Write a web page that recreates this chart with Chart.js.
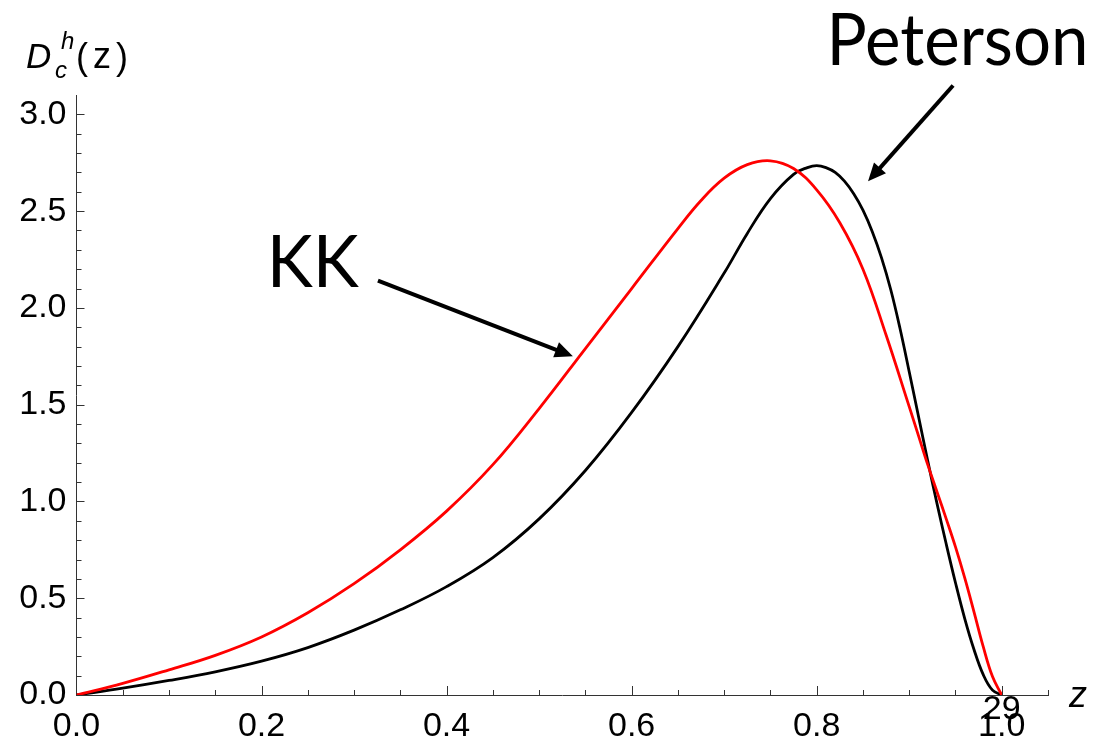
<!DOCTYPE html>
<html>
<head>
<meta charset="utf-8">
<title>D(z): KK vs Peterson</title>
<script src="https://cdn.jsdelivr.net/npm/chart.js@4.4.1/dist/chart.umd.min.js"></script>
<style>
  html, body { margin: 0; padding: 0; background: #fff; }
</style>
</head>
<body>
<canvas id="fragChart" width="1099" height="736"></canvas>
<script>
// KK fragmentation function
const kkZ = [0, 0.05, 0.1, 0.15, 0.2, 0.25, 0.3, 0.35, 0.4, 0.45, 0.5, 0.55, 0.6, 0.65, 0.675,
    0.7, 0.725, 0.75, 0.775, 0.8, 0.825, 0.85, 0.875, 0.9, 0.91, 0.92, 0.93, 0.94, 0.95,
    0.96, 0.97, 0.98, 0.99, 1.0];
const kkValues = [0, 0.06, 0.13, 0.205, 0.30, 0.425, 0.575, 0.75, 0.95, 1.19, 1.48, 1.79, 2.10, 2.41, 2.555,
    2.67, 2.74, 2.76, 2.72, 2.61, 2.44, 2.20, 1.86, 1.49, 1.34, 1.19, 1.05, 0.91, 0.765,
    0.605, 0.43, 0.25, 0.095, 0];

// Peterson fragmentation function
const petersonZ = [0, 0.05, 0.1, 0.15, 0.2, 0.25, 0.3, 0.35, 0.4, 0.45, 0.5, 0.55, 0.6, 0.65, 0.7,
    0.725, 0.75, 0.775, 0.79, 0.8, 0.81, 0.82, 0.83, 0.84, 0.85, 0.86, 0.87, 0.88, 0.89, 0.9,
    0.91, 0.92, 0.93, 0.94, 0.95, 0.96, 0.97, 0.98, 0.99, 1.0];
const petersonValues = [0, 0.035, 0.075, 0.12, 0.175, 0.245, 0.335, 0.44, 0.56, 0.71, 0.91, 1.16, 1.46, 1.80, 2.18,
    2.385, 2.565, 2.69, 2.725, 2.735, 2.725, 2.70, 2.655, 2.59, 2.505, 2.395, 2.26, 2.095, 1.895, 1.67,
    1.44, 1.21, 0.99, 0.78, 0.58, 0.395, 0.235, 0.105, 0.025, 0];

const xTickValues = [0, 0.2, 0.4, 0.6, 0.8, 1.0];
const yTickValues = [0, 0.5, 1.0, 1.5, 2.0, 2.5, 3.0];
const X_MAX = 1.05;
const Y_MAX = 3.1;

const LABEL_FONT = '"Liberation Sans", Arial, sans-serif';
const NOTE_FONT = 'Lato, "Open Sans", sans-serif';
const AXIS_COLOR = '#333';

function toPoints(zs, ys) {
    return zs.map((z, i) => ({ x: z, y: ys[i] }));
}

// captions with arrows, anchored in data coordinates
const notes = [
    { text: 'KK', at: [0.2055, 2.109], width: 92, from: [0.3258, 2.141], to: [0.5365, 1.750] },
    { text: 'Peterson', at: [0.8106, 3.257], width: 262, from: [0.9474, 3.149], to: [0.8555, 2.654] }
];

function drawArrow(ctx, x1, y1, x2, y2) {
    const ang = Math.atan2(y2 - y1, x2 - x1);
    const head = 18, half = 8;
    const c = Math.cos(ang), s = Math.sin(ang);
    ctx.beginPath();
    ctx.moveTo(x1, y1);
    ctx.lineTo(x2 - c * head * 0.8, y2 - s * head * 0.8);
    ctx.lineWidth = 4;
    ctx.strokeStyle = '#000';
    ctx.stroke();
    ctx.beginPath();
    ctx.moveTo(x2, y2);
    ctx.lineTo(x2 - c * head - s * half, y2 - s * head + c * half);
    ctx.lineTo(x2 - c * head + s * half, y2 - s * head - c * half);
    ctx.closePath();
    ctx.fillStyle = '#000';
    ctx.fill();
}

// inward tick marks, axis titles and the captions
const decorPlugin = {
    id: 'decor',
    afterDraw(chart) {
        const ctx = chart.ctx;
        const xs = chart.scales.x, ys = chart.scales.y;
        const area = chart.chartArea;
        ctx.save();

        ctx.strokeStyle = AXIS_COLOR;
        ctx.lineWidth = 1;
        ctx.beginPath();
        for (let i = 1; i <= 21; i++) {
            const px = Math.round(xs.getPixelForValue(i * 0.05)) + 0.5;
            const len = i % 4 === 0 ? 9 : 5;
            ctx.moveTo(px, area.bottom);
            ctx.lineTo(px, area.bottom - len);
        }
        for (let i = 1; i <= 30; i++) {
            const py = Math.round(ys.getPixelForValue(i * 0.1)) + 0.5;
            const len = i % 5 === 0 ? 8 : 5;
            ctx.moveTo(area.left, py);
            ctx.lineTo(area.left + len, py);
        }
        ctx.stroke();

        // y axis title D_c^h(z)
        ctx.fillStyle = '#000';
        ctx.textAlign = 'left';
        ctx.textBaseline = 'alphabetic';
        ctx.font = 'italic 35px ' + LABEL_FONT;
        ctx.fillText('D', 26, 68);
        ctx.font = 'italic 24px ' + LABEL_FONT;
        ctx.fillText('h', 61, 49);
        ctx.fillText('c', 55, 78);
        ctx.font = '36px ' + LABEL_FONT;
        ctx.fillText('(', 76, 69);
        ctx.fillText('z', 93, 68);
        ctx.fillText(')', 116, 69);

        // x axis title
        ctx.font = 'italic 36px ' + LABEL_FONT;
        ctx.fillText('z', 1069, 707);

        ctx.font = '34px ' + LABEL_FONT;
        ctx.textAlign = 'center';
        ctx.fillText('29', xs.getPixelForValue(1.0), 719);

        ctx.textAlign = 'left';
        ctx.font = '72px ' + NOTE_FONT;
        notes.forEach(n => {
            const px = xs.getPixelForValue(n.at[0]);
            const py = ys.getPixelForValue(n.at[1]);
            const sx = n.width / ctx.measureText(n.text).width;
            ctx.save();
            ctx.translate(px, py);
            ctx.scale(sx, 1);
            ctx.fillStyle = '#000';
            ctx.fillText(n.text, 0, 0);
            ctx.restore();
            drawArrow(ctx,
                xs.getPixelForValue(n.from[0]), ys.getPixelForValue(n.from[1]),
                xs.getPixelForValue(n.to[0]), ys.getPixelForValue(n.to[1]));
        });
        ctx.restore();
    }
};

function initFragChart() {
    const ctx = document.getElementById('fragChart');
    if (!ctx) return;

    const data = {
        datasets: [
            {
                label: 'KK',
                data: toPoints(kkZ, kkValues),
                borderColor: '#ff0000',
                borderWidth: 2.8,
                pointRadius: 0,
                showLine: true,
                tension: 0.4
            },
            {
                label: 'Peterson',
                data: toPoints(petersonZ, petersonValues),
                borderColor: '#000000',
                borderWidth: 2.8,
                pointRadius: 0,
                showLine: true,
                tension: 0.4
            }
        ]
    };

    const config = {
        type: 'scatter',
        data: data,
        options: {
            responsive: false,
            animation: false,
            devicePixelRatio: 1,
            layout: { padding: { left: 0, right: 51, top: 95, bottom: 0 } },
            plugins: {
                legend: { display: false },
                tooltip: { enabled: false }
            },
            scales: {
                x: {
                    type: 'linear',
                    min: 0,
                    max: X_MAX,
                    afterFit: s => { s.height = 41; },
                    afterBuildTicks: s => { s.ticks = xTickValues.map(v => ({ value: v })); },
                    grid: { display: false },
                    border: { display: true, color: AXIS_COLOR, width: 1 },
                    ticks: {
                        padding: 3,
                        maxRotation: 0,
                        autoSkip: false,
                        color: '#000',
                        font: { size: 34, family: LABEL_FONT },
                        callback: v => Number(v).toFixed(1)
                    }
                },
                y: {
                    type: 'linear',
                    min: 0,
                    max: Y_MAX,
                    afterFit: s => { s.width = 76.5; },
                    afterBuildTicks: s => { s.ticks = yTickValues.map(v => ({ value: v })); },
                    grid: { display: false },
                    border: { display: true, color: AXIS_COLOR, width: 1 },
                    ticks: {
                        padding: 2,
                        color: '#000',
                        font: { size: 34, family: LABEL_FONT },
                        callback: v => Number(v).toFixed(1)
                    }
                }
            }
        },
        plugins: [decorPlugin]
    };

    new Chart(ctx, config);
}

initFragChart();
</script>
</body>
</html>
